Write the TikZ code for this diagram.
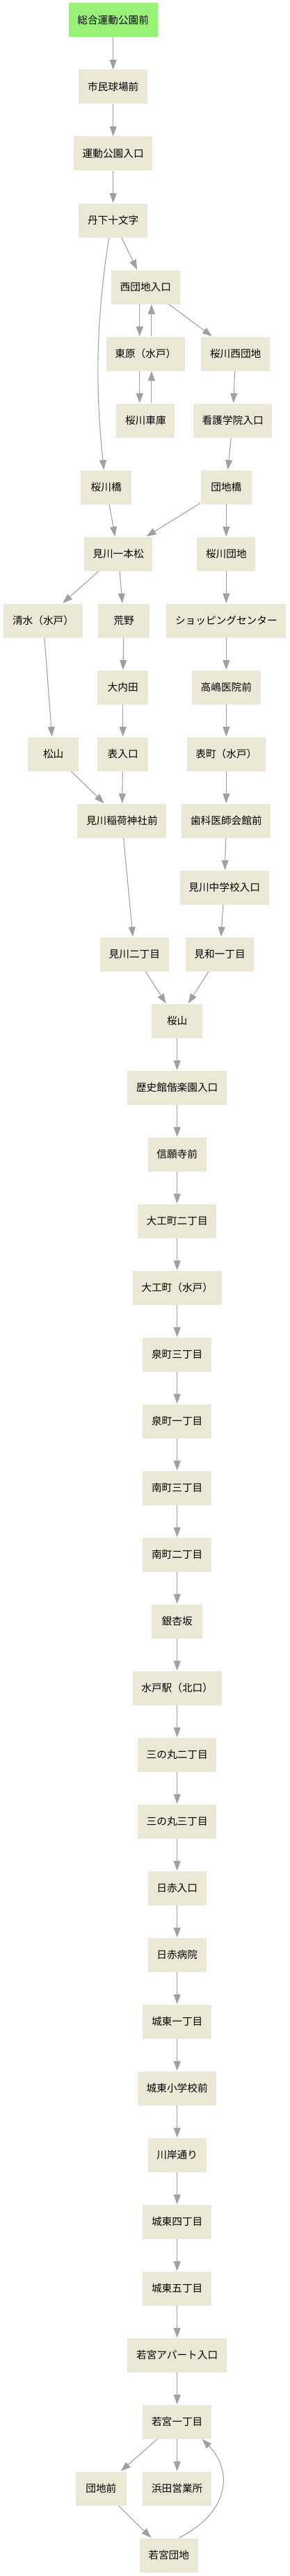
\documentclass[tikz,border=0pt]{standalone}
\usepackage{xcolor}
\usepackage{tikz}
\usepackage{fontspec}
\setmainfont{Noto Sans CJK JP}
\usetikzlibrary{shapes.geometric, arrows.meta, positioning}

\definecolor{stopbg}{RGB}{235,233,214}
\definecolor{startbg}{RGB}{152,242,118}
\definecolor{edgegray}{RGB}{160,160,160}

\begin{document}
\begin{tikzpicture}[node distance=72pt, auto, thick,
    >={Triangle[length=10.5pt,width=7.5pt]},
    busstop/.style={rectangle, fill=stopbg, inner xsep=9.5pt,
        minimum width=55pt, minimum height=36.75pt,
        font=\fontsize{11pt}{13pt}\selectfont},
    link/.style={->, draw=edgegray}]
    \useasboundingbox (0,0) rectangle (312.75pt,-2780.25pt);

    % Nodes
    \node (sogo) [busstop, fill=startbg] at (122pt,-21.75pt) {総合運動公園前};
    \node (shimin) [busstop, below of=sogo] {市民球場前};
    \node (undo) [busstop, below of=shimin] {運動公園入口};
    \node (tange) [busstop, below of=undo] {丹下十文字};
    \node (nishidanchi) [busstop, below of=tange, xshift=35pt] {西団地入口};
    \node (higashihara) [busstop, below of=nishidanchi] {東原（水戸）};
    \node (sakuranishi) [busstop, below of=nishidanchi, xshift=97pt] {桜川西団地};
    \node (shako) [busstop, below of=higashihara] {桜川車庫};
    \node (kango) [busstop, below of=sakuranishi, xshift=-3pt] {看護学院入口};
    \node (sakurabashi) [busstop, below of=shako, xshift=-42.5pt] {桜川橋};
    \node (danchibashi) [busstop, below of=kango, xshift=-7pt] {団地橋};
    \node (ipponmatsu) [busstop, below of=sakurabashi, xshift=13pt] {見川一本松};
    \node (sakuradanchi) [busstop, below of=danchibashi] {桜川団地};
    \node (shimizu) [busstop, below of=ipponmatsu, xshift=-81pt] {清水（水戸）};
    \node (arano) [busstop, below of=ipponmatsu, xshift=6pt] {荒野};
    \node (shopping) [busstop, below of=sakuradanchi] {ショッピングセンター};
    \node (ouchida) [busstop, below of=arano, xshift=-1pt] {大内田};
    \node (takashima) [busstop, below of=shopping] {高嶋医院前};
    \node (omoteiri) [busstop, below of=ouchida] {表入口};
    \node (matsuyama) [busstop, left of=omoteiri, xshift=-3pt] {松山};
    \node (omotemachi) [busstop, below of=takashima] {表町（水戸）};
    \node (inari) [busstop, below of=omoteiri, xshift=-1pt] {見川稲荷神社前};
    \node (shika) [busstop, below of=omotemachi] {歯科医師会館前};
    \node (chugaku) [busstop, below of=shika, xshift=-2pt] {見川中学校入口};
    \node (miwa1) [busstop, below of=chugaku, xshift=-5pt] {見和一丁目};
    \node (mikawa2) [busstop, left of=miwa1, xshift=-20pt] {見川二丁目};
    \node (sakurayama) [busstop, below of=miwa1, xshift=-46pt] {桜山};
    \node (rekishikan) [busstop, below of=sakurayama] {歴史館偕楽園入口};
    \node (shinganji) [busstop, below of=rekishikan] {信願寺前};
    \node (daiku2) [busstop, below of=shinganji] {大工町二丁目};
    \node (daikumachi) [busstop, below of=daiku2] {大工町（水戸）};
    \node (izumi3) [busstop, below of=daikumachi] {泉町三丁目};
    \node (izumi1) [busstop, below of=izumi3] {泉町一丁目};
    \node (minami3) [busstop, below of=izumi1] {南町三丁目};
    \node (minami2) [busstop, below of=minami3] {南町二丁目};
    \node (ichozaka) [busstop, below of=minami2] {銀杏坂};
    \node (mitoeki) [busstop, below of=ichozaka] {水戸駅（北口）};
    \node (sannomaru2) [busstop, below of=mitoeki] {三の丸二丁目};
    \node (sannomaru3) [busstop, below of=sannomaru2] {三の丸三丁目};
    \node (nisseki) [busstop, below of=sannomaru3] {日赤入口};
    \node (byoin) [busstop, below of=nisseki] {日赤病院};
    \node (joto1) [busstop, below of=byoin] {城東一丁目};
    \node (jotosho) [busstop, below of=joto1] {城東小学校前};
    \node (kawagishi) [busstop, below of=jotosho] {川岸通り};
    \node (joto4) [busstop, below of=kawagishi] {城東四丁目};
    \node (joto5) [busstop, below of=joto4] {城東五丁目};
    \node (apato) [busstop, below of=joto5] {若宮アパート入口};
    \node (wakamiya1) [busstop, below of=apato] {若宮一丁目};
    \node (danchimae) [busstop, below of=wakamiya1, xshift=-82pt] {団地前};
    \node (hamada) [busstop, below of=wakamiya1] {浜田営業所};
    \node (wakadanchi) [busstop, below of=hamada, xshift=-9pt] {若宮団地};

    % Upper branches
    \draw [link] (sogo) -- (shimin);
    \draw [link] (shimin) -- (undo);
    \draw [link] (undo) -- (tange);
    \draw [link] (tange) -- (nishidanchi);
    \draw [link] ([xshift=-4.5pt]tange.south) .. controls (103pt,-350pt) and (103pt,-420pt) .. ([xshift=-2.5pt]sakurabashi.north);
    \draw [link] ([xshift=-6.4pt]nishidanchi.south) -- ([xshift=-6.4pt]higashihara.north);
    \draw [link] ([xshift=6.4pt]higashihara.north) -- ([xshift=6.4pt]nishidanchi.south);
    \draw [link] (nishidanchi) -- (sakuranishi);
    \draw [link] ([xshift=-6.4pt]higashihara.south) -- ([xshift=-6.4pt]shako.north);
    \draw [link] ([xshift=6.4pt]shako.north) -- ([xshift=6.4pt]higashihara.south);
    \draw [link] (sakuranishi) -- (kango);
    \draw [link] (kango) -- (danchibashi);
    \draw [link] (sakurabashi) -- (ipponmatsu);
    \draw [link] (danchibashi) -- (ipponmatsu);
    \draw [link] (danchibashi) -- (sakuradanchi);
    \draw [link] (ipponmatsu) -- (shimizu);
    \draw [link] (ipponmatsu) -- (arano);
    \draw [link] (sakuradanchi) -- (shopping);
    \draw [link] (shimizu) -- (matsuyama);
    \draw [link] (arano) -- (ouchida);
    \draw [link] (ouchida) -- (omoteiri);
    \draw [link] (shopping) -- (takashima);
    \draw [link] (takashima) -- (omotemachi);
    \draw [link] (matsuyama) -- (inari);
    \draw [link] (omoteiri) -- (inari);
    \draw [link] (omotemachi) -- (shika);
    \draw [link] (shika) -- (chugaku);
    \draw [link] (chugaku) -- (miwa1);
    \draw [link] (inari) -- (mikawa2);
    \draw [link] (mikawa2) -- (sakurayama);
    \draw [link] (miwa1) -- (sakurayama);

    % Main line
    \draw [link] (sakurayama) -- (rekishikan);
    \draw [link] (rekishikan) -- (shinganji);
    \draw [link] (shinganji) -- (daiku2);
    \draw [link] (daiku2) -- (daikumachi);
    \draw [link] (daikumachi) -- (izumi3);
    \draw [link] (izumi3) -- (izumi1);
    \draw [link] (izumi1) -- (minami3);
    \draw [link] (minami3) -- (minami2);
    \draw [link] (minami2) -- (ichozaka);
    \draw [link] (ichozaka) -- (mitoeki);
    \draw [link] (mitoeki) -- (sannomaru2);
    \draw [link] (sannomaru2) -- (sannomaru3);
    \draw [link] (sannomaru3) -- (nisseki);
    \draw [link] (nisseki) -- (byoin);
    \draw [link] (byoin) -- (joto1);
    \draw [link] (joto1) -- (jotosho);
    \draw [link] (jotosho) -- (kawagishi);
    \draw [link] (kawagishi) -- (joto4);
    \draw [link] (joto4) -- (joto5);
    \draw [link] (joto5) -- (apato);
    \draw [link] (apato) -- (wakamiya1);

    % Terminal loop
    \draw [link] (wakamiya1) -- (danchimae);
    \draw [link] (wakamiya1) -- (hamada);
    \draw [link] (danchimae) -- (wakadanchi);
    \draw [link] ([xshift=11pt]wakadanchi.north) .. controls (250pt,-2710pt) and (250pt,-2665pt) .. ([xshift=27pt]wakamiya1.south);

\end{tikzpicture}
\end{document}
